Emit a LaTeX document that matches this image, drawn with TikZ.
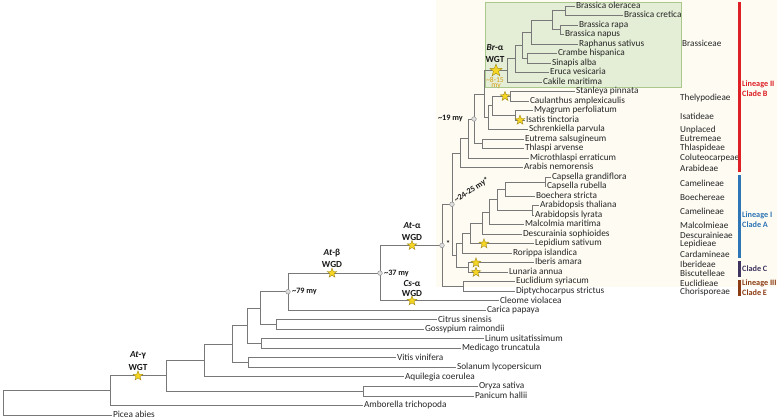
\documentclass[tikz,border=0pt]{standalone}
\usepackage{fontspec}
\setmainfont{Carlito}
\usetikzlibrary{shapes.geometric}
\newcommand\py[1]{((#1)-6)/9.51}
\definecolor{branchc}{RGB}{120,120,120}
\definecolor{beige}{RGB}{253,251,242}
\definecolor{greenf}{RGB}{228,237,214}
\definecolor{greenl}{RGB}{170,200,140}
\definecolor{starf}{RGB}{246,214,36}
\definecolor{starl}{RGB}{160,135,20}
\definecolor{agecol}{RGB}{214,160,20}
\definecolor{linIIc}{RGB}{222,32,38}
\definecolor{linIc}{RGB}{46,117,182}
\definecolor{cladeCc}{RGB}{64,52,96}
\definecolor{linIIIc}{RGB}{140,60,20}
\begin{document}
\begin{tikzpicture}[x=1pt,y=-9.51pt,
  br/.style={draw=branchc, line width=0.8pt},
  tx/.style={anchor=west, inner sep=0pt, outer xsep=1pt, font=\fontsize{9.3}{10}\selectfont, text=black!85, text height=6.2pt, text depth=1.8pt},
  tribe/.style={anchor=west, inner sep=0pt, font=\fontsize{9.2}{10}\selectfont, text=black!85},
  ann/.style={inner sep=0pt, font=\bfseries\fontsize{9.3}{10}\selectfont, text=black!90},
  age/.style={inner sep=0pt, font=\bfseries\fontsize{8.2}{9}\selectfont, text=black!90},
  wstar/.style={star, star points=5, star point ratio=2.4, minimum size=10pt, inner sep=0pt, fill=starf, draw=starl, line width=0.4pt},
  dot/.style={circle, minimum size=4.6pt, inner sep=0pt, fill=gray!25, draw=gray!85, line width=0.5pt},
  cl/.style={anchor=west, inner sep=0pt, font=\bfseries\fontsize{8.2}{9}\selectfont},
  bar/.style={line width=2.6pt}]
\useasboundingbox (0,-0.6309) rectangle (777,43.5331);
% backgrounds
\fill[beige] (436,{\py{0}}) rectangle (777,{\py{287}});
\filldraw[fill=greenf, draw=greenl, line width=0.6pt] (485,{\py{2}}) rectangle (681,{\py{87}});

% taxa
\node[tx] (t0) at (575,0) {Brassica oleracea};
\node[tx] (t1) at (623,1) {Brassica cretica};
\node[tx] (t2) at (578,2) {Brassica rapa};
\node[tx] (t3) at (564,3) {Brassica napus};
\node[tx] (t4) at (578,4) {Raphanus sativus};
\node[tx] (t5) at (557,5) {Crambe hispanica};
\node[tx] (t6) at (551,6) {Sinapis alba};
\node[tx] (t7) at (549,7) {Eruca vesicaria};
\node[tx] (t8) at (542,8) {Cakile maritima};
\node[tx] (t9) at (575,9) {Stanleya pinnata};
\node[tx] (t10) at (529,10) {Caulanthus amplexicaulis};
\node[tx] (t11) at (533,11) {Myagrum perfoliatum};
\node[tx] (t12) at (525,12) {Isatis tinctoria};
\node[tx] (t13) at (528,13) {Schrenkiella parvula};
\node[tx] (t14) at (524,14) {Eutrema salsugineum};
\node[tx] (t15) at (524,15) {Thlaspi arvense};
\node[tx] (t16) at (529,16) {Microthlaspi erraticum};
\node[tx] (t17) at (523,17) {Arabis nemorensis};
\node[tx] (t18) at (551,18) {Capsella grandiflora};
\node[tx] (t19) at (546,19) {Capsella rubella};
\node[tx] (t20) at (535,20) {Boechera stricta};
\node[tx] (t21) at (539,21) {Arabidopsis thaliana};
\node[tx] (t22) at (534,22) {Arabidopsis lyrata};
\node[tx] (t23) at (524,23) {Malcolmia maritima};
\node[tx] (t24) at (522,24) {Descurainia sophioides};
\node[tx] (t25) at (534,25) {Lepidium sativum};
\node[tx] (t26) at (512,26) {Rorippa islandica};
\node[tx] (t27) at (534,27) {Iberis amara};
\node[tx] (t28) at (508,28) {Lunaria annua};
\node[tx] (t29) at (515,29) {Euclidium syriacum};
\node[tx] (t30) at (515,30) {Diptychocarpus strictus};
\node[tx] (t31) at (499,31) {Cleome violacea};
\node[tx] (t32) at (486,32) {Carica papaya};
\node[tx] (t33) at (437,33) {Citrus sinensis};
\node[tx] (t34) at (424,34) {Gossypium raimondii};
\node[tx] (t35) at (484,35) {Linum usitatissimum};
\node[tx] (t36) at (461,36) {Medicago truncatula};
\node[tx] (t37) at (396,37) {Vitis vinifera};
\node[tx] (t38) at (456,38) {Solanum lycopersicum};
\node[tx] (t39) at (404,39) {Aquilegia coerulea};
\node[tx] (t40) at (478,40) {Oryza sativa};
\node[tx] (t41) at (474,41) {Panicum hallii};
\node[tx] (t42) at (363,42) {Amborella trichopoda};
\node[tx] (t43) at (112,43) {Picea abies};

% internal nodes
\coordinate (n01) at (565,0.5);
\coordinate (n23) at (560,2.5);
\coordinate (nE4) at (552,1.5);
\coordinate (nE5) at (531,2.75);
\coordinate (n56) at (527,5.5);
\coordinate (nE6) at (522,4.125);
\coordinate (nE7) at (515,5.5625);
\coordinate (nBr) at (507,6.78125);
\coordinate (nSC) at (510,9.5);
\coordinate (nIs) at (515,11.5);
\coordinate (nT) at (492,10.5);
\coordinate (nV) at (488,11.75);
\coordinate (nU) at (484,9.265625);
\coordinate (nET) at (482,14.5);
\coordinate (n19) at (474,11.8828);
\coordinate (nM) at (468,13.9414);
\coordinate (nL) at (460,15.4707);
\coordinate (nCap) at (545,18.5);
\coordinate (nCB) at (505,19.25);
\coordinate (nAA) at (532,21.5);
\coordinate (nCBA) at (497,20.375);
\coordinate (nCBAM) at (489,21.6875);
\coordinate (nCBAMD) at (482,22.84375);
\coordinate (nL4) at (470,23.921875);
\coordinate (nLI) at (462,24.9609);
\coordinate (nIL) at (468,27.5);
\coordinate (nLIC) at (456,26.2305);
\coordinate (nJ) at (452,20.8506);
\coordinate (nED) at (463,29.5);
\coordinate (nI) at (442,25.1753);
\coordinate (nH) at (380,28.0877);
\coordinate (nG) at (288,30.0438);
\coordinate (nCG) at (276,33.5);
\coordinate (nF) at (260,31.7719);
\coordinate (nLM) at (261,35.5);
\coordinate (nE) at (247,33.6360);
\coordinate (nVS) at (248,37.5);
\coordinate (nD) at (232,35.5680);
\coordinate (nC) at (204,37.2840);
\coordinate (nOP) at (363,40.5);
\coordinate (nB) at (166,38.8920);
\coordinate (nA) at (110,40.4460);
\coordinate (nR) at (3,41.7230);

% branches
\foreach \p/\c in {n01/t0,n01/t1,n23/t2,n23/t3,nE4/n01,nE4/n23,nE5/nE4,nE5/t4,
  n56/t5,n56/t6,nE6/nE5,nE6/n56,nE7/nE6,nE7/t7,nBr/nE7,nBr/t8,
  nSC/t9,nSC/t10,nIs/t11,nIs/t12,nT/nSC,nT/nIs,nV/nT,nV/t13,nU/nBr,nU/nV,
  nET/t14,nET/t15,n19/nU,n19/nET,nM/n19,nM/t16,nL/nM,nL/t17,
  nCap/t18,nCap/t19,nCB/nCap,nCB/t20,nAA/t21,nAA/t22,nCBA/nCB,nCBA/nAA,
  nCBAM/nCBA,nCBAM/t23,nCBAMD/nCBAM,nCBAMD/t24,nL4/nCBAMD,nL4/t25,nLI/nL4,nLI/t26,
  nIL/t27,nIL/t28,nLIC/nLI,nLIC/nIL,nJ/nL,nJ/nLIC,nED/t29,nED/t30,nI/nJ,nI/nED,
  nH/nI,nH/t31,nG/nH,nG/t32,nCG/t33,nCG/t34,nF/nG,nF/nCG,nLM/t35,nLM/t36,
  nE/nF,nE/nLM,nVS/t37,nVS/t38,nD/nE,nD/nVS,nC/nD,nC/t39,nOP/t40,nOP/t41,
  nB/nC,nB/nOP,nA/nB,nA/t42,nR/nA,nR/t43}
  \draw[br] (\p) |- (\c);

% dated nodes
\foreach \n in {nG,nH,nI,nJ,n19} \node[dot] at (\n) {};

% stars
\node[wstar] (sg) at (138,38.892) {};
\node[wstar] (sb) at (332,28.0877) {};
\node[wstar] (sa) at (412,25.1753) {};
\node[wstar] (scs) at (412,31) {};
\node[wstar, minimum size=13pt] (sbr) at (496,6.78125) {};
\node[wstar] (s1) at (505,9.5) {};
\node[wstar] (s2) at (520,12) {};
\node[wstar] (s3) at (484,25) {};
\node[wstar] (s4) at (476,27) {};
\node[wstar] (s5) at (476,28) {};

% WGD labels
\node[ann] (lg1) at (138,{\py{355}}) {\textit{At}-γ};
\node[ann] (lg2) at (138,{\py{367}}) {WGT};
\node[ann] (lb1) at (332,{\py{253}}) {\textit{At}-β};
\node[ann] (lb2) at (332,{\py{264}}) {WGD};
\node[ann] (la1) at (412,{\py{226}}) {\textit{At}-α};
\node[ann] (la2) at (412,{\py{237}}) {WGD};
\node[ann] (lc1) at (412,{\py{283}}) {\textit{Cs}-α};
\node[ann] (lc2) at (412,{\py{293}}) {WGD};
\node[ann] (lr1) at (495,{\py{48}}) {\textit{Br}-α};
\node[ann] (lr2) at (495,{\py{59}}) {WGT};
\node[inner sep=0pt, font=\fontsize{7.6}{8}\selectfont, text=agecol] (lr3) at (495,{\py{79.5}}) {\textasciitilde 8-15};
\node[inner sep=0pt, font=\fontsize{7.6}{8}\selectfont, text=agecol] (lr4) at (496,{\py{86.5}}) {my};

% ages
\node[age, anchor=west] (a79) at (292,30.0438) {\textasciitilde 79 my};
\node[age, anchor=west] (a37) at (384,28.0877) {\textasciitilde 37 my};
\node[age, anchor=east] (a19) at (463,{\py{118.5}}) {\textasciitilde 19 my};
\node[age, anchor=west] (ast) at (446,{\py{244}}) {*};
\node[age, anchor=west, rotate=33] (a24) at (455,{\py{201}}) {\textasciitilde 24-25 my*};

% tribes
\node[tribe] (r1) at (682,{\py{43}}) {Brassiceae};
\node[tribe] (r2) at (680,{\py{98}}) {Thelypodieae};
\node[tribe] (r3) at (680,{\py{116}}) {Isatideae};
\node[tribe] (r4) at (680,{\py{130}}) {Unplaced};
\node[tribe] (r5) at (680,{\py{139}}) {Eutremeae};
\node[tribe] (r6) at (680,{\py{148.5}}) {Thlaspideae};
\node[tribe] (r7) at (680,{\py{158}}) {Coluteocarpeae};
\node[tribe] (r8) at (680,{\py{168}}) {Arabideae};
\node[tribe] (r9) at (680,{\py{183}}) {Camelineae};
\node[tribe] (r10) at (680,{\py{197}}) {Boechereae};
\node[tribe] (r11) at (680,{\py{211}}) {Camelineae};
\node[tribe] (r12) at (680,{\py{225.5}}) {Malcolmieae};
\node[tribe] (r13) at (680,{\py{235}}) {Descurainieae};
\node[tribe] (r14) at (680,{\py{244.5}}) {Lepidieae};
\node[tribe] (r15) at (680,{\py{254}}) {Cardamineae};
\node[tribe] (r16) at (680,{\py{264}}) {Iberideae};
\node[tribe] (r17) at (680,{\py{273.5}}) {Biscutelleae};
\node[tribe] (r18) at (680,{\py{283}}) {Euclidieae};
\node[tribe] (r19) at (680,{\py{292.5}}) {Chorisporeae};

% clade bars
\draw[bar, linIIc] (739.5,{\py{2}}) -- (739.5,{\py{172}});
\draw[bar, linIc] (739.5,{\py{175}}) -- (739.5,{\py{258}});
\draw[bar, cladeCc] (739.5,{\py{261}}) -- (739.5,{\py{277}});
\draw[bar, linIIIc] (739.5,{\py{280}}) -- (739.5,{\py{296}});
\node[cl, text=linIIc] (c1) at (742,{\py{84}}) {Lineage II};
\node[cl, text=linIIc] (c2) at (742,{\py{94}}) {Clade B};
\node[cl, text=linIc] (c3) at (742,{\py{215}}) {Lineage I};
\node[cl, text=linIc] (c4) at (742,{\py{225}}) {Clade A};
\node[cl, text=cladeCc] (c5) at (742,{\py{269}}) {Clade C};
\node[cl, text=linIIIc] (c6) at (742,{\py{283}}) {Lineage III};
\node[cl, text=linIIIc] (c7) at (742,{\py{293}}) {Clade E};
\end{tikzpicture}
\end{document}
